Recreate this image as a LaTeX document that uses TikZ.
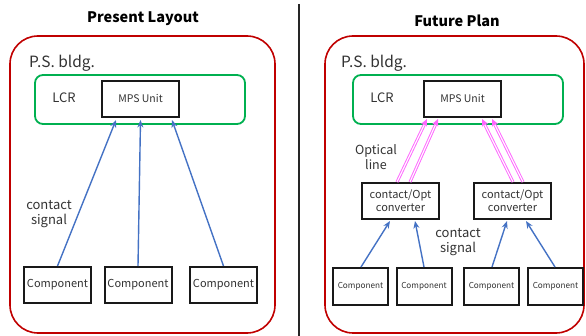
\documentclass[tikz,border=0pt]{standalone}
\usepackage{fontspec}
\setmainfont{Noto Sans CJK JP}
\usetikzlibrary{arrows.meta}
\definecolor{bldgred}{HTML}{C00000}
\definecolor{lcrgreen}{HTML}{00B050}
\definecolor{sigblue}{HTML}{4472C4}
\definecolor{optpink}{HTML}{FF66FF}
\definecolor{txtgray}{HTML}{333333}
\tikzstyle{title} = [font=\fontsize{14.5}{17}\selectfont\bfseries, text=black]
\tikzstyle{bldg} = [rectangle, rounded corners=28pt, draw=bldgred, line width=1.6pt]
\tikzstyle{lcr} = [rectangle, rounded corners=8pt, draw=lcrgreen, line width=1.8pt]
\tikzstyle{label} = [text=txtgray, align=center, inner sep=0pt]
\tikzstyle{unit} = [rectangle, draw=black!90, line width=2pt, text=txtgray, text centered, inner sep=0pt, font=\fontsize{10.5}{12}\selectfont]
\tikzstyle{comp} = [unit, minimum width=67pt, minimum height=36pt, font=\fontsize{11}{13}\selectfont]
\tikzstyle{smallcomp} = [unit, minimum width=55pt, minimum height=37pt, font=\fontsize{8.2}{10}\selectfont]
\tikzstyle{conv} = [unit, minimum width=77pt, minimum height=36pt, align=center, font=\fontsize{11}{13}\selectfont]
\tikzstyle{sig} = [-{Stealth[length=7.5pt, width=6pt]}, draw=sigblue, line width=1.4pt]
\tikzstyle{opt} = [-{Stealth[length=7pt, width=6.5pt]}, draw=optpink, line width=3pt, postaction={draw=white, line width=1.1pt, shorten >=6.5pt, -}]

\begin{document}
\begin{tikzpicture}[x=1pt, y=-1pt]
\useasboundingbox (0,0) rectangle (586,336);

% divider
\coordinate (divtop) at (299,4);
\coordinate (divbot) at (299,336);
\draw [line width=1.8pt, black!85] (divtop) -- (divbot);

% ---- present layout ----
\node (titleL) [title] at (143,19) {Present Layout};
\node (bldgL) [bldg, minimum width=265pt, minimum height=297pt] at (142.5,184.5) {};
\node (psL) [label, anchor=west, font=\fontsize{15.5}{18}\selectfont] at (29,63) {P.S. bldg.};
\node (lcrL) [lcr, minimum width=210pt, minimum height=49pt] at (140,99.5) {};
\node (lcrtxtL) [label, font=\fontsize{13}{15}\selectfont] at (64,98) {LCR};
\node (mpsL) [unit, minimum width=77pt, minimum height=36pt] at (140.5,99) {MPS Unit};
\node (compA) [comp] at (57.5,285) {Component};
\node (compB) [comp] at (138,285) {Component};
\node (compC) [comp] at (223.5,285) {Component};
\node (sigL) [label, font=\fontsize{13}{15.5}\selectfont] at (49,214) {contact\\signal};

\draw [sig] (compA.north) -- ([xshift=15pt, yshift=-2pt]mpsL.south west);
\draw [sig] (compB.north) -- ([yshift=-2pt]mpsL.south);
\draw [sig] (compC.north) -- ([xshift=-8pt, yshift=-2pt]mpsL.south east);

% ---- future plan ----
\node (titleR) [title] at (457,21) {Future Plan};
\node (bldgR) [bldg, minimum width=259pt, minimum height=297pt] at (454.5,184.5) {};
\node (psR) [label, anchor=west, font=\fontsize{15.5}{18}\selectfont] at (341,63) {P.S. bldg.};
\node (lcrR) [lcr, minimum width=210pt, minimum height=49pt] at (458,99.5) {};
\node (lcrtxtR) [label, font=\fontsize{13}{15}\selectfont] at (382,98) {LCR};
\node (mpsR) [unit, minimum width=77pt, minimum height=36pt] at (462.5,99) {MPS Unit};
\node (convA) [conv] at (400.5,201) {contact/Opt\\converter};
\node (convB) [conv] at (512.5,201) {contact/Opt\\converter};
\node (compD) [smallcomp] at (360.5,286.5) {Component};
\node (compE) [smallcomp] at (424,286.5) {Component};
\node (compF) [smallcomp] at (491.5,286.5) {Component};
\node (compG) [smallcomp] at (555.5,286.5) {Component};
\node (optlbl) [label, font=\fontsize{12.5}{15}\selectfont] at (376,157) {Optical\\line};
\node (sigR) [label, font=\fontsize{13}{15.5}\selectfont] at (458,242) {contact\\signal};

\draw [opt] ([xshift=-3.5pt]convA.north) -- ([xshift=4pt, yshift=-1pt]mpsR.south west);
\draw [opt] ([xshift=9.5pt]convA.north) -- ([xshift=15pt, yshift=-1pt]mpsR.south west);
\draw [opt] ([xshift=0.5pt]convB.north) -- ([xshift=19.5pt, yshift=-1pt]mpsR.south);
\draw [opt] ([xshift=10.5pt]convB.north) -- ([xshift=29.5pt, yshift=-1pt]mpsR.south);

\draw [sig] ([xshift=0.5pt]compD.north) -- ([xshift=-10.5pt, yshift=-1pt]convA.south);
\draw [sig] (compE.north) -- ([xshift=14.5pt, yshift=-1pt]convA.south);
\draw [sig] ([xshift=0.5pt]compF.north) -- ([xshift=-5.5pt, yshift=-1pt]convB.south);
\draw [sig] ([xshift=-0.5pt]compG.north) -- ([xshift=13.5pt, yshift=-1pt]convB.south);
\end{tikzpicture}
\end{document}
